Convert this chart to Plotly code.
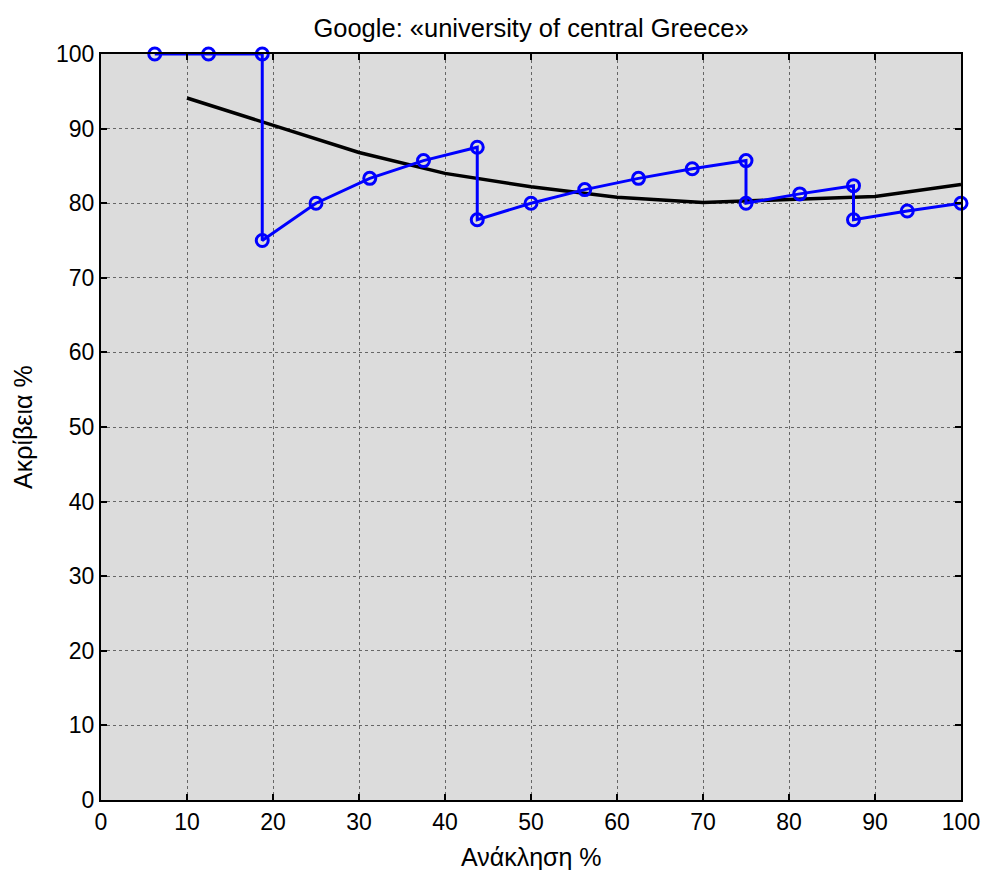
import plotly.graph_objects as go

recall = [6.25, 12.5, 18.75, 18.75, 25, 31.25, 37.5, 43.75, 43.75, 50, 56.25,
          62.5, 68.75, 75, 75, 81.25, 87.5, 87.5, 93.75, 100]
precision = [100, 100, 100, 75, 80, 83.33, 85.71, 87.5, 77.78, 80, 81.82,
             83.33, 84.62, 85.71, 80, 81.25, 82.35, 77.78, 78.95, 80]

interp_recall = [10, 20, 30, 40, 50, 60, 70, 80, 90, 100]
interp_precision = [94.1, 90.5, 86.8, 84.0, 82.2, 80.8, 80.1, 80.5, 80.9, 82.5]

ticks = [0, 10, 20, 30, 40, 50, 60, 70, 80, 90, 100]

title_text = "Google: «university of central Greece»"
x_title = "Ανάκληση %"
y_title = "Ακρίβεια %"

FONT = "Liberation Sans, Arial, sans-serif"

W, H = 984, 870
ML, MR, MT, MB = 101, 23, 54, 70
PW, PH = W - ML - MR, H - MT - MB

fig = go.Figure()
fig.add_trace(go.Scatter(x=interp_recall, y=interp_precision, mode="lines",
                         line=dict(color="black", width=3.5), cliponaxis=False,
                         showlegend=False))
fig.add_trace(go.Scatter(x=recall, y=precision, mode="lines+markers",
                         line=dict(color="#0000ff", width=3),
                         marker=dict(symbol="circle-open", size=12, color="#0000ff",
                                     line=dict(width=3, color="#0000ff")),
                         cliponaxis=False, showlegend=False))

axis_common = dict(range=[0, 100], tickvals=ticks, ticktext=[str(t) for t in ticks],
                   showline=True, linecolor="black", linewidth=2, mirror="ticks",
                   ticks="inside", ticklen=6, tickwidth=2, tickcolor="black",
                   showgrid=True, gridcolor="#666666", gridwidth=1, griddash="dot",
                   zeroline=False, automargin=False,
                   tickfont=dict(family=FONT, size=23, color="black"))

fig.update_layout(
    width=W, height=H,
    margin=dict(l=ML, r=MR, t=MT, b=MB),
    paper_bgcolor="white", plot_bgcolor="#dcdcdc",
    title=dict(text=title_text, xref="paper", x=0.5,
               xanchor="center", yref="container", y=1 - 28 / H, yanchor="middle",
               font=dict(family=FONT, size=25.5, color="black")),
    xaxis=axis_common,
    yaxis=axis_common,
    annotations=[
        dict(text=x_title, xref="paper", yref="paper", x=0.5, y=-(857 - (H - MB)) / PH,
             xanchor="center", yanchor="middle", showarrow=False,
             font=dict(family=FONT, size=25, color="black")),
        dict(text=y_title, xref="paper", yref="paper", x=-(ML - 23) / PW, y=0.5,
             xanchor="center", yanchor="middle", textangle=-90, showarrow=False,
             font=dict(family=FONT, size=25, color="black")),
    ],
)

fig.write_html("out.html")
